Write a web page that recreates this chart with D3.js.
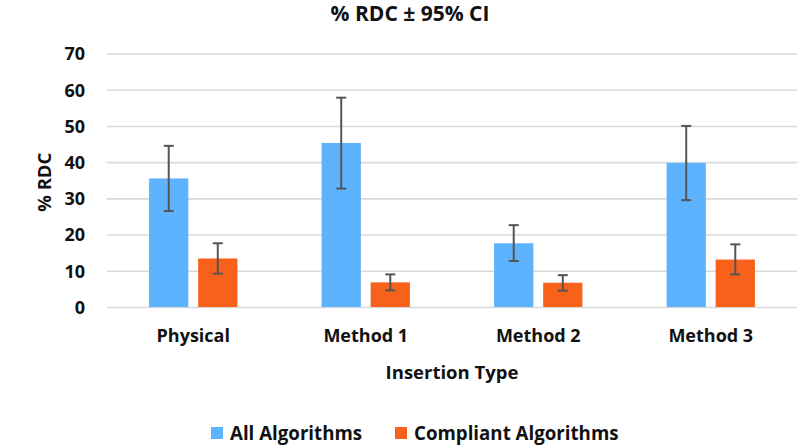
<!DOCTYPE html>
<html><head><meta charset="utf-8">
<script src="https://cdn.jsdelivr.net/npm/d3@7"></script>
<style>body{margin:0;background:#fff}svg{display:block}text{font-family:"Open Sans",Lato,sans-serif;font-weight:bold;fill:#111}</style>
</head><body><svg id="c" width="800" height="446"></svg>
<script>
const categories = ["Physical", "Method 1", "Method 2", "Method 3"];
const seriesNames = ["All Algorithms", "Compliant Algorithms"];
const allValues = [35.5, 45.3, 17.6, 39.8];
const allLow = [26.5, 32.7, 12.7, 29.5];
const allHigh = [44.5, 57.8, 22.6, 50.0];
const compValues = [13.4, 6.8, 6.7, 13.1];
const compLow = [9.2, 4.6, 4.5, 9.0];
const compHigh = [17.6, 9.0, 8.8, 17.3];
const yTicks = [0, 10, 20, 30, 40, 50, 60, 70];
const colors = ["#5DB3FD", "#F8611A"];

const svg = d3.select("#c");
const m = {left: 107, right: 797, top: 53.5, bottom: 307};
const x0 = d3.scaleBand().domain(categories).range([m.left, m.right]).padding(0);
const x1 = d3.scaleBand().domain(seriesNames).range([0, x0.bandwidth() * 0.512]).paddingInner(0.2);
const y = d3.scaleLinear().domain([0, 70]).range([m.bottom, m.top]);

const yAxis = d3.axisLeft(y).tickValues(yTicks).tickSize(-(m.right - m.left)).tickPadding(22).tickFormat(d3.format("d"));
const gy = svg.append("g").attr("transform", `translate(${m.left},0)`).call(yAxis);
gy.select(".domain").remove();
gy.selectAll(".tick line").attr("stroke", "#D9D9D9").attr("stroke-width", 1.6);
gy.selectAll(".tick text").style("font-size", "18px").attr("fill", "#111").attr("dy", "0.35em");

const data = categories.map((c, i) => ({
  cat: c,
  items: [
    {s: seriesNames[0], v: allValues[i], lo: allLow[i], hi: allHigh[i]},
    {s: seriesNames[1], v: compValues[i], lo: compLow[i], hi: compHigh[i]}
  ]
}));

const off = (x0.bandwidth() - x1.range()[1]) / 2;
const groups = svg.append("g").selectAll("g").data(data).join("g")
  .attr("transform", d => `translate(${x0(d.cat) + off},0)`);
groups.selectAll("rect").data(d => d.items).join("rect")
  .attr("x", d => x1(d.s)).attr("width", x1.bandwidth())
  .attr("y", d => y(d.v)).attr("height", d => y(0) - y(d.v))
  .attr("fill", (d, i) => colors[i]);

const eb = groups.selectAll("g.eb").data(d => d.items).join("g").attr("class", "eb")
  .attr("stroke", "#555").attr("stroke-width", 2);
const cx = d => x1(d.s) + x1.bandwidth() / 2;
eb.append("line").attr("x1", cx).attr("x2", cx).attr("y1", d => y(d.lo)).attr("y2", d => y(d.hi));
eb.append("line").attr("x1", d => cx(d) - 5).attr("x2", d => cx(d) + 5).attr("y1", d => y(d.hi)).attr("y2", d => y(d.hi));
eb.append("line").attr("x1", d => cx(d) - 5).attr("x2", d => cx(d) + 5).attr("y1", d => y(d.lo)).attr("y2", d => y(d.lo));

const xAxis = d3.axisBottom(x0).tickSize(0).tickPadding(22);
const gx = svg.append("g").attr("transform", `translate(0,${m.bottom})`).call(xAxis);
gx.select(".domain").remove();
gx.selectAll(".tick text").style("font-size", "18px").attr("fill", "#111");

svg.append("text").attr("x", 410).attr("y", 21).attr("text-anchor", "middle").style("font-size", "21px").text("% RDC \u00B1 95% CI");
svg.append("text").attr("x", (m.left + m.right) / 2).attr("y", 379).attr("text-anchor", "middle").style("font-size", "18.5px").text("Insertion Type");
svg.append("text").attr("transform", `translate(51,${(m.top + m.bottom) / 2 + 2}) rotate(-90)`).attr("text-anchor", "middle").style("font-size", "18.5px").text("% RDC");

const leg = svg.append("g");
const legX = [211, 395];
seriesNames.forEach((s, i) => {
  leg.append("rect").attr("x", legX[i]).attr("y", 427).attr("width", 12).attr("height", 12).attr("fill", colors[i]);
  leg.append("text").attr("x", legX[i] + 19).attr("y", 440).style("font-size", "18.7px").text(s);
});
</script></body></html>
